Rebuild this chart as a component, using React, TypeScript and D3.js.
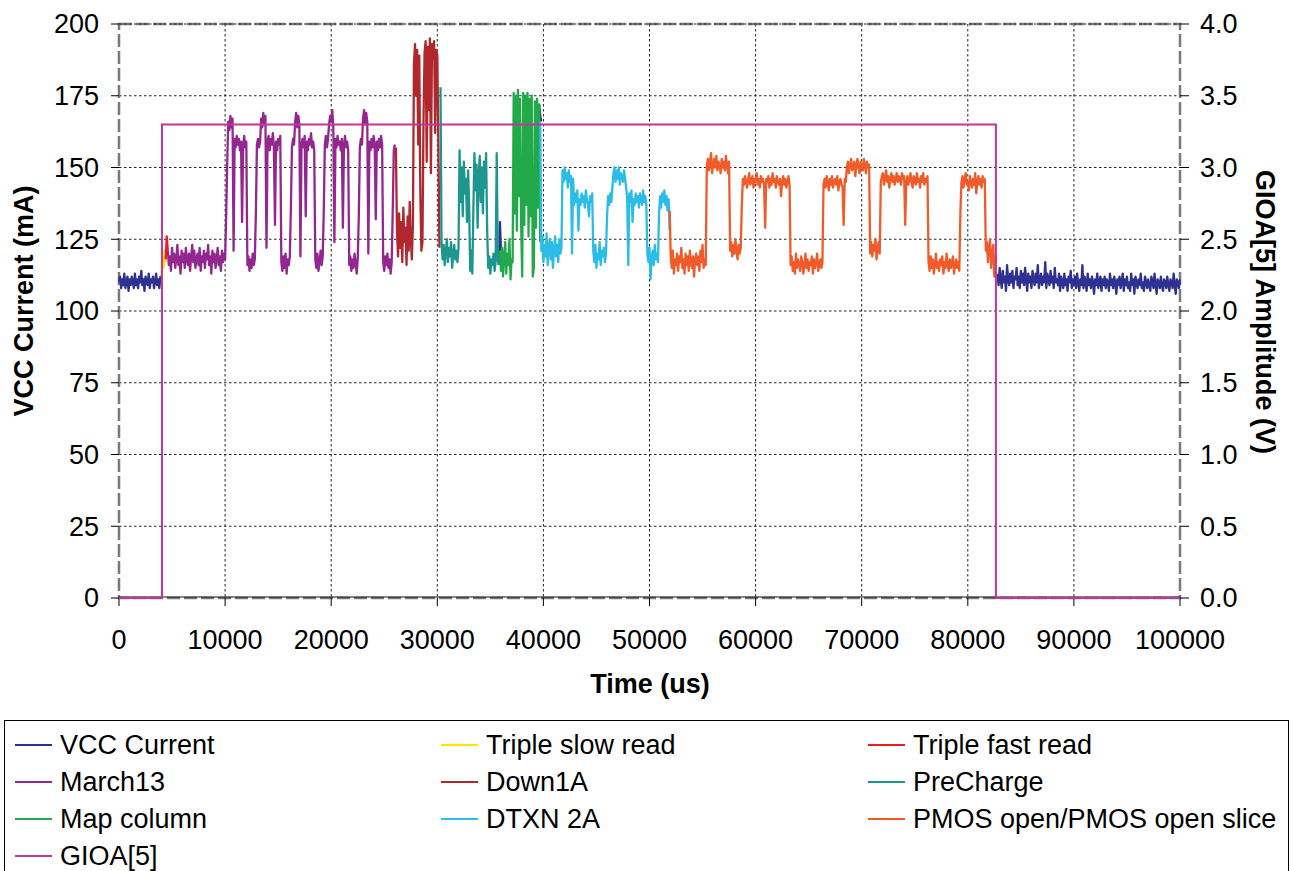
import React from "react";
import * as d3 from "d3";

const W = 1293;
const H = 871;
const PLOT = { left: 119, right: 1180, top: 24, bottom: 598 };
const SAMPLE_US = 100;
const FONT = "'Liberation Sans', Arial, sans-serif";
const FS = 27;

// [start time (us), samples every SAMPLE_US]
type Chunk = [number, number[]];

const timeTicks = [0, 10000, 20000, 30000, 40000, 50000, 60000, 70000, 80000, 90000, 100000];
const currentTicks = [0, 25, 50, 75, 100, 125, 150, 175, 200];
const voltTicks = [0, 0.5, 1, 1.5, 2, 2.5, 3, 3.5, 4];

const vccCurrent: Chunk[] = [
  [0, [110, 112, 108, 111, 109, 113, 108, 110, 112, 107, 111, 109, 112, 110, 108, 113, 109, 111, 108, 112, 110, 114, 109, 111, 107, 112, 110, 109, 113, 108, 111, 110, 112, 108, 110, 113, 109, 111, 108, 112, 111]],
  [35800, [116, 131, 121]],
  [39600, [172, 168, 166]],
  [82800, [113, 109, 115, 111, 108, 114, 110, 112, 107, 116, 111, 109, 113, 110, 114, 108, 112, 111, 115, 109]],
  [84800, [112, 108, 114, 110, 113, 109, 115, 111, 107, 113, 110, 112, 108, 114, 111, 109, 113, 110, 116, 108]],
  [86800, [111, 113, 109, 112, 110, 117, 108, 113, 111, 109, 114, 110, 112, 108, 115, 110, 111, 109, 113, 107]],
  [88800, [112, 110, 108, 113, 109, 111, 107, 112, 110, 114, 108, 111, 109, 112, 108, 113, 110, 107, 111, 109]],
  [90800, [116, 108, 112, 110, 107, 113, 109, 111, 108, 112, 110, 106, 111, 109, 113, 108, 110, 112, 107, 111]],
  [92800, [109, 112, 108, 111, 110, 107, 113, 109, 111, 108, 112, 110, 106, 111, 109, 112, 108, 110, 113, 107]],
  [94800, [111, 109, 112, 108, 110, 107, 113, 109, 111, 106, 112, 110, 108, 111, 109, 113, 108, 110, 107, 112]],
  [96800, [110, 108, 111, 109, 107, 112, 110, 108, 113, 109, 106, 111, 110, 108, 112, 109, 107, 111, 110, 108]],
  [98800, [112, 109, 107, 111, 110, 108, 113, 109, 106, 111, 110, 108, 111]],
];

const tripleSlowRead: Chunk[] = [[4000, [112, 119, 115, 121, 117]]];

const tripleFastRead: Chunk[] = [[4400, [118, 126, 121]]];

const march13: Chunk[] = [
  [4600, [121, 116, 119, 114, 122, 117, 120, 115, 118, 123, 116, 119, 113, 121, 117, 120, 115, 122, 118, 116, 120, 114, 119, 123, 117, 121, 115, 118, 120, 116, 122, 114, 119, 117, 121, 115, 120, 118, 123, 116, 119, 113, 121, 117, 120, 115, 118, 122, 116, 119, 114, 121, 117, 120, 118]],
  [10100, [133, 152, 166, 163, 168, 164, 167, 121, 160, 157, 161, 158, 160, 156, 159, 131, 158, 161, 157, 159, 116, 119, 114, 118, 115, 120, 116, 118, 134, 158, 160, 157, 159]],
  [13400, [167, 164, 169, 165, 168, 122, 159, 161, 156, 160, 158, 162, 157, 130, 159, 156, 160, 158, 161, 117, 114, 119, 115, 120, 113, 118, 116, 119, 136, 157, 160, 158]],
  [16600, [166, 169, 164, 168, 165, 119, 158, 160, 157, 161, 133, 159, 156, 160, 158, 162, 157, 159, 156, 118, 115, 120, 114, 117, 121, 116, 119, 135, 158, 161, 157, 160]],
  [19800, [165, 168, 166, 170, 164, 124, 160, 157, 161, 158, 159, 156, 160, 129, 158, 161, 157, 159, 156, 116, 119, 114, 118, 115, 120, 117, 113, 118, 133, 157, 160, 158]],
  [23000, [167, 170, 165, 169, 166, 120, 159, 156, 160, 157, 161, 158, 132, 159, 156, 160, 157, 161, 158, 117, 114, 119, 116, 120, 115, 118, 113, 117, 135, 156, 158]],
];

const down1A: Chunk[] = [
  [26100, [157, 128, 119, 134, 122, 131, 117, 136, 124, 129, 116, 133, 121, 138, 125, 118, 130]],
  [27800, [186, 193, 175, 191, 158, 189, 141, 121, 124]],
  [28700, [167, 190, 194, 152, 192, 170, 195, 148, 193, 188, 194, 162, 191, 189, 158, 122]],
];

const preCharge: Chunk[] = [
  [30300, [178, 124, 118, 123, 116, 121, 125, 117, 122, 119, 124, 115, 120, 123, 118, 121, 117, 122]],
  [32100, [156, 138, 150, 133, 152, 141, 146, 131, 149, 137, 114, 121, 113, 136, 155, 142, 151, 129, 147, 154, 138, 150, 134, 152, 143, 155, 128, 115, 119, 113, 118, 116, 120, 114, 117, 155, 118, 116]],
];

const mapColumn: Chunk[] = [
  [35900, [121, 114, 122, 112, 119, 124, 113, 120, 116, 125, 111, 118, 117]],
  [37200, [176, 134, 175, 128, 177, 140, 174, 131, 112, 176, 130, 175, 137, 176, 126, 174, 133, 175, 112, 115, 173, 129, 174, 136, 172, 124]],
];

const dtxn2A: Chunk[] = [
  [39700, [166, 121, 126, 117, 123, 119, 127, 116, 122, 125, 118, 124, 115, 121, 126, 119, 123, 117, 125, 120, 122]],
  [41800, [149, 145, 150, 146, 148, 143, 149, 145, 147, 120, 146, 137, 141, 138, 142, 128, 139, 137, 141, 138, 140, 136, 142, 139, 137, 133, 140, 138, 141]],
  [44700, [121, 117, 123, 115, 120, 118, 124, 116, 121, 119, 122, 117, 120, 133, 140, 137, 141, 138, 143, 148, 150, 145, 149, 146, 150, 144, 148, 147, 145, 149, 146, 143]],
  [47900, [139, 116, 141, 138, 142, 131, 139, 137, 141, 138, 140, 136, 141, 139, 137, 142, 138, 140, 137, 120, 117, 122, 111, 119, 121, 116, 123, 118, 120, 117, 134, 140, 136, 141, 138, 142, 137, 140, 135, 139, 128]],
];

const pmosOpen: Chunk[] = [
  [51900, [135, 119, 115, 121, 113, 118, 116, 120, 114, 119, 117, 122, 115, 118, 113, 120, 116, 119, 114, 121, 117, 115, 119, 112, 118, 120, 116, 119, 114, 121, 117, 123, 115, 118, 116]],
  [55400, [150, 153, 149, 152, 155, 148, 151, 153, 150, 154, 149, 152, 151, 148, 153, 150, 152, 149, 154, 151, 148, 152]],
  [57600, [121, 124, 119, 123, 120, 125, 121, 118, 123, 120, 122]],
  [58700, [137, 146, 144, 147, 145, 143, 146, 148, 144, 145, 147, 143, 146, 145, 148, 144, 146, 143, 147, 145, 146, 144, 129, 146, 145, 147, 143, 146, 144, 148, 145, 146, 143, 147, 145, 144, 146, 140, 145, 147, 144, 146, 143, 145, 147, 144]],
  [63300, [116, 119, 114, 117, 113, 120, 115, 118, 116, 114, 119, 117, 113, 116, 120, 115, 118, 114, 117, 116, 119, 113, 118, 115, 117, 120, 114, 116, 118, 115, 117]],
  [66400, [144, 146, 143, 147, 145, 142, 146, 144, 147, 143, 145, 146, 144, 147, 142, 145, 146, 144, 143, 130, 146, 145]],
  [68600, [150, 152, 148, 151, 153, 149, 150, 152, 147, 151, 153, 150, 148, 152, 150, 149, 153, 151, 148, 152, 150, 151]],
  [70800, [120, 124, 119, 123, 121, 125, 118, 122, 124, 120]],
  [71800, [145, 147, 148, 144, 146, 149, 145, 147, 143, 146, 148, 145, 147, 144, 146, 148, 145, 147, 146, 144, 148, 146, 147, 130, 145, 147, 144, 146, 148, 145, 143, 147, 146, 144, 148, 145, 146, 143, 147, 145, 148, 144, 146, 145, 147]],
  [76300, [117, 114, 119, 115, 118, 113, 116, 120, 115, 117, 114, 118, 116, 119, 113, 117, 115, 120, 116, 114, 118, 115, 117, 119, 113, 116, 118, 115, 117, 114]],
  [79300, [134, 145, 147, 143, 146, 148, 144, 145, 142, 147, 145, 143, 146, 144, 148, 141, 145, 147, 144, 146, 143, 147, 145, 146]],
  [81700, [121, 124, 117, 122, 125, 115, 120, 123, 112, 119, 118]],
];

// GIOA[5] enable pulse, secondary axis (V)
const gioaTime = [0, 4050, 4050, 82650, 82650, 100000];
const gioaVolts = [0, 0, 3.3, 3.3, 0, 0];

const currentSeries = [
  { name: "VCC Current", color: "#2E3192", data: vccCurrent },
  { name: "Triple slow read", color: "#FFE600", data: tripleSlowRead },
  { name: "Triple fast read", color: "#ED1C24", data: tripleFastRead },
  { name: "March13", color: "#93278F", data: march13 },
  { name: "Down1A", color: "#B0282E", data: down1A },
  { name: "PreCharge", color: "#1E9690", data: preCharge },
  { name: "Map column", color: "#22AA4A", data: mapColumn },
  { name: "DTXN 2A", color: "#2BBDE8", data: dtxn2A },
  { name: "PMOS open/PMOS open slice", color: "#F15A29", data: pmosOpen },
];
const gioaSeries = { name: "GIOA[5]", color: "#C1359C" };

type Pt = [number, number] | null;

function toPoints(chunks: Chunk[]): Pt[] {
  const pts: Pt[] = [];
  let lastT = -Infinity;
  for (const [t0, vals] of chunks) {
    if (pts.length && t0 - lastT > SAMPLE_US * 1.5) pts.push(null);
    vals.forEach((v, i) => pts.push([t0 + i * SAMPLE_US, v]));
    lastT = t0 + (vals.length - 1) * SAMPLE_US;
  }
  return pts;
}

export default function App() {
  const x = d3.scaleLinear().domain([0, 100000]).range([PLOT.left, PLOT.right]);
  const yL = d3.scaleLinear().domain([0, 200]).range([PLOT.bottom, PLOT.top]);
  const yR = d3.scaleLinear().domain([0, 4]).range([PLOT.bottom, PLOT.top]);

  const line = d3
    .line<Pt>()
    .defined((d) => d !== null)
    .x((d) => x((d as [number, number])[0]))
    .y((d) => yL((d as [number, number])[1]));

  const gioaLine = d3
    .line<number>()
    .x((_, i) => x(gioaTime[i]))
    .y((v) => yR(v));

  const legendItems = [...currentSeries.map((s) => ({ name: s.name, color: s.color })), gioaSeries];
  const legendCols = [15, 441, 868];
  const legendRow0 = 745;
  const legendRowH = 37;

  const fmtV = d3.format(".1f");

  return (
    <svg
      width={W}
      height={H}
      style={{ position: "absolute", left: 0, top: 0, background: "#fff", fontFamily: FONT }}
    >
      <rect x={0} y={0} width={W} height={H} fill="#fff" />

      {/* grid */}
      {currentTicks
        .filter((t) => t > 0 && t < 200)
        .map((t) => (
          <line key={"gh" + t} x1={PLOT.left} x2={PLOT.right} y1={yL(t)} y2={yL(t)} stroke="#222" strokeWidth={1} strokeDasharray="2.5,2.5" />
        ))}
      {timeTicks
        .filter((t) => t > 0 && t < 100000)
        .map((t) => (
          <line key={"gv" + t} x1={x(t)} x2={x(t)} y1={PLOT.top} y2={PLOT.bottom} stroke="#222" strokeWidth={1} strokeDasharray="2.5,2.5" />
        ))}

      {/* plot frame */}
      <rect
        x={PLOT.left}
        y={PLOT.top}
        width={PLOT.right - PLOT.left}
        height={PLOT.bottom - PLOT.top}
        fill="none"
        stroke="#7a7a7a"
        strokeWidth={2.5}
        strokeDasharray="13,4"
      />
      <line x1={PLOT.left} x2={PLOT.right} y1={PLOT.top} y2={PLOT.top} stroke="#222" strokeWidth={1} strokeDasharray="2.5,2.5" />
      <line x1={PLOT.left} x2={PLOT.right} y1={PLOT.bottom - 1} y2={PLOT.bottom - 1} stroke="#111" strokeWidth={1} />

      {/* ticks */}
      {currentTicks.map((t) => (
        <g key={"lt" + t}>
          <line x1={PLOT.left - 8} x2={PLOT.left} y1={yL(t)} y2={yL(t)} stroke="#000" strokeWidth={1} />
          <text x={99} y={yL(t)} dy="0.35em" textAnchor="end" fontSize={FS} fill="#000">
            {t}
          </text>
        </g>
      ))}
      {voltTicks.map((t) => (
        <g key={"rt" + t}>
          <line x1={PLOT.right} x2={PLOT.right + 9} y1={yR(t)} y2={yR(t)} stroke="#000" strokeWidth={1} />
          <text x={1200} y={yR(t)} dy="0.35em" textAnchor="start" fontSize={FS} fill="#000">
            {fmtV(t)}
          </text>
        </g>
      ))}
      {timeTicks.map((t) => (
        <g key={"bt" + t}>
          <line x1={x(t)} x2={x(t)} y1={PLOT.bottom} y2={PLOT.bottom + 8} stroke="#000" strokeWidth={1} />
          <text x={x(t)} y={649} textAnchor="middle" fontSize={FS} fill="#000">
            {t}
          </text>
        </g>
      ))}

      {/* axis titles */}
      <text x={650} y={693} textAnchor="middle" fontSize={FS} fontWeight="bold" fill="#000">
        Time (us)
      </text>
      <text transform="translate(33,301) rotate(-90)" textAnchor="middle" fontSize={FS} fontWeight="bold" fill="#000">
        VCC Current (mA)
      </text>
      <text transform="translate(1256,312) rotate(90)" textAnchor="middle" fontSize={FS} fontWeight="bold" fill="#000">
        GIOA[5] Amplitude (V)
      </text>

      {/* current traces */}
      <g>
        {currentSeries.map((s) => (
          <path key={s.name} d={line(toPoints(s.data)) || ""} fill="none" stroke={s.color} strokeWidth={2.3} strokeLinejoin="round" />
        ))}
      </g>

      {/* GIOA[5] on secondary axis */}
      <path d={gioaLine(gioaVolts) || ""} fill="none" stroke={gioaSeries.color} strokeWidth={2} />

      {/* legend */}
      <rect x={4.5} y={720.5} width={1284} height={170} fill="#fff" stroke="#000" strokeWidth={1} />
      {legendItems.map((it, i) => {
        const col = i % 3;
        const row = Math.floor(i / 3);
        const lx = legendCols[col];
        const ly = legendRow0 + row * legendRowH;
        return (
          <g key={it.name}>
            <line x1={lx} x2={lx + 37} y1={ly} y2={ly} stroke={it.color} strokeWidth={2} />
            <text x={lx + 45} y={ly} dy="0.35em" fontSize={FS} fill="#000">
              {it.name}
            </text>
          </g>
        );
      })}
    </svg>
  );
}
